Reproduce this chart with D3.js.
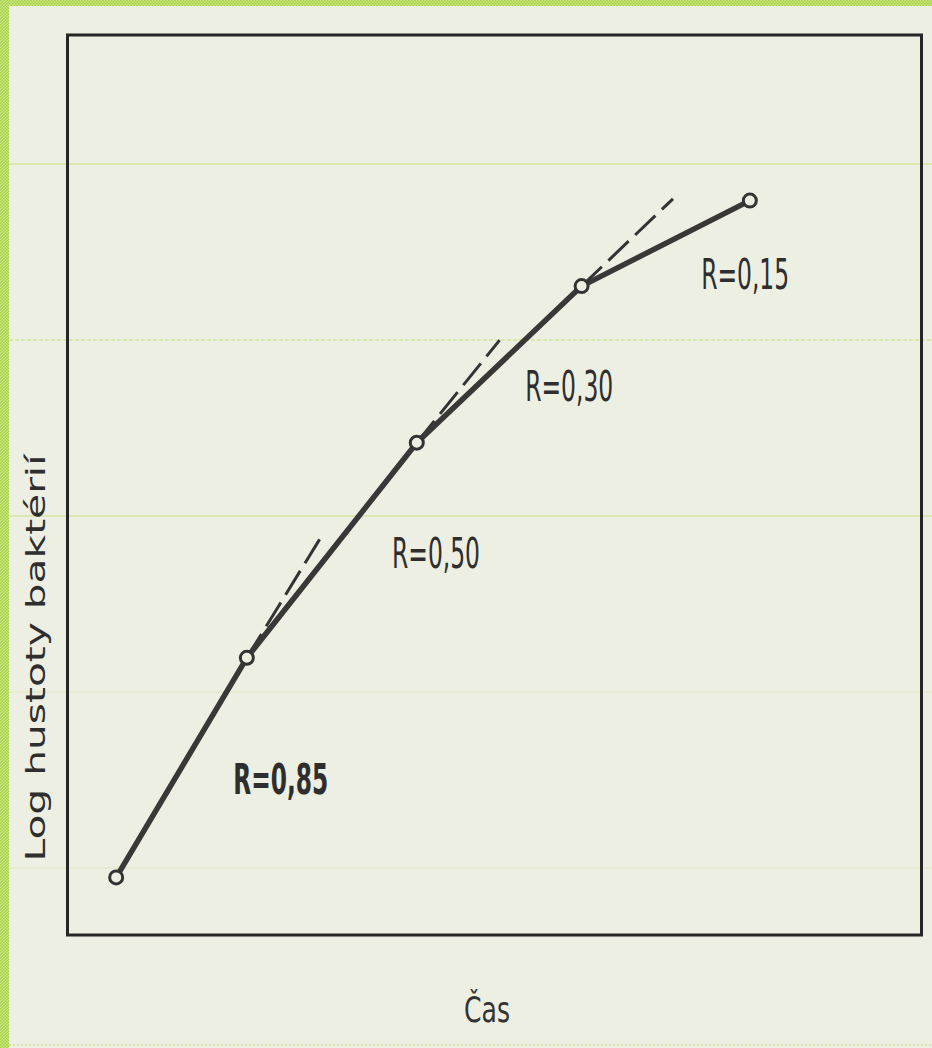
<!DOCTYPE html>
<html>
<head>
<meta charset="utf-8">
<script src="https://cdn.jsdelivr.net/npm/d3@7"></script>
<style>
  html, body { margin: 0; padding: 0; background: #eeefe3; }
  #chart { width: 932px; height: 1048px; }
</style>
</head>
<body>
<div id="chart"></div>
<script>
// Růstová křivka: log hustoty baktérií v čase, úseky s rychlostí R
const times = [0.57, 2.10, 4.09, 6.02, 7.99];
const logDensity = [0.64, 3.08, 5.47, 7.21, 8.16];

// čárkované prodloužení úseků (od bodu k tomuto konci)
const tangentFrom = [1, 2, 3];
const tangentEndTime = [3.00, 5.06, 7.09];
const tangentEndValue = [4.47, 6.61, 8.18];

// popisky rychlostí
const rateLabels = ["R=0,85", "R=0,50", "R=0,30", "R=0,15"];
const rateLabelTime = [1.94, 3.80, 5.36, 7.42];
const rateLabelValue = [1.57, 4.08, 5.93, 7.18];

const xTitle = "Čas";
const yTitle = "Log hustoty baktérií";

class GrowthChart {
  constructor(containerId) {
    this.container = d3.select(containerId);
    this.width = 932;
    this.height = 1048;
    this.frame = { left: 67.5, right: 921.5, top: 35, bottom: 935 };

    this.svg = this.container.append("svg")
      .attr("width", this.width)
      .attr("height", this.height);

    this.init();
  }

  init() {
    this.x = d3.scaleLinear().domain([0, 10]).range([this.frame.left, this.frame.right]);
    this.y = d3.scaleLinear().domain([0, 10]).range([this.frame.bottom, this.frame.top]);

    // tečkovaný zelený okraj
    const defs = this.svg.append("defs");
    const pat = defs.append("pattern")
      .attr("id", "dots")
      .attr("width", 3).attr("height", 3)
      .attr("patternUnits", "userSpaceOnUse");
    pat.append("rect").attr("width", 3).attr("height", 3).attr("fill", "#c9e68a");
    pat.append("rect").attr("width", 1.5).attr("height", 1.5).attr("fill", "#a8d040");
    pat.append("rect").attr("x", 1.5).attr("y", 1.5).attr("width", 1.5).attr("height", 1.5).attr("fill", "#a8d040");

    this.svg.append("rect").attr("width", this.width).attr("height", this.height).attr("fill", "#eeefe3");
    this.svg.append("rect").attr("width", 9).attr("height", this.height).attr("fill", "url(#dots)");
    this.svg.append("rect").attr("width", this.width).attr("height", 6).attr("fill", "url(#dots)");

    // vodorovné zelené linky prohlížeče
    const guides = [
      { y: 164, o: 0.75, dash: null },
      { y: 340, o: 0.8, dash: "4,2" },
      { y: 516, o: 0.7, dash: null },
      { y: 692, o: 0.3, dash: null },
      { y: 868, o: 0.3, dash: null },
      { y: 1045, o: 0.8, dash: "2,2" }
    ];
    this.svg.selectAll(".guide")
      .data(guides)
      .enter()
      .append("line")
      .attr("class", "guide")
      .attr("x1", 9).attr("x2", this.width)
      .attr("y1", d => d.y).attr("y2", d => d.y)
      .attr("stroke", "#b6dc55")
      .attr("stroke-width", 1.2)
      .attr("stroke-dasharray", d => d.dash)
      .attr("opacity", d => d.o);

    this.g = this.svg.append("g");
  }

  update() {
    const x = this.x, y = this.y;
    const points = times.map((t, i) => ({ t, v: logDensity[i] }));

    // rámeček grafu
    this.g.append("rect")
      .attr("x", this.frame.left)
      .attr("y", this.frame.top)
      .attr("width", this.frame.right - this.frame.left)
      .attr("height", this.frame.bottom - this.frame.top)
      .attr("fill", "none")
      .attr("stroke", "#262626")
      .attr("stroke-width", 3);

    // čárkované tečny
    this.g.selectAll(".tangent")
      .data(tangentFrom)
      .enter()
      .append("line")
      .attr("class", "tangent")
      .attr("x1", d => x(times[d]))
      .attr("y1", d => y(logDensity[d]))
      .attr("x2", (d, i) => x(tangentEndTime[i]))
      .attr("y2", (d, i) => y(tangentEndValue[i]))
      .attr("stroke", "#333")
      .attr("stroke-width", 3)
      .attr("stroke-dasharray", "28,9");

    // křivka růstu
    const line = d3.line().x(d => x(d.t)).y(d => y(d.v));
    this.g.append("path")
      .datum(points)
      .attr("d", line)
      .attr("fill", "none")
      .attr("stroke", "#3a3836")
      .attr("stroke-width", 5.5)
      .attr("stroke-linejoin", "round");

    this.g.selectAll(".pt")
      .data(points)
      .enter()
      .append("circle")
      .attr("class", "pt")
      .attr("cx", d => x(d.t))
      .attr("cy", d => y(d.v))
      .attr("r", 6.5)
      .attr("fill", "#eeefe3")
      .attr("stroke", "#333")
      .attr("stroke-width", 3);

    // popisky R
    this.g.selectAll(".rate")
      .data(rateLabels)
      .enter()
      .append("text")
      .attr("class", "rate")
      .attr("x", (d, i) => x(rateLabelTime[i]))
      .attr("y", (d, i) => y(rateLabelValue[i]))
      .attr("font-family", "'DejaVu Sans Condensed', 'DejaVu Sans', sans-serif")
      .attr("font-size", 42)
      .attr("font-weight", (d, i) => i === 0 ? "bold" : "normal")
      .attr("fill", "#2e2e2e")
      .attr("textLength", (d, i) => i === 0 ? 95 : 88)
      .attr("lengthAdjust", "spacingAndGlyphs")
      .text(d => d);

    // názvy os
    this.g.append("text")
      .attr("x", 487)
      .attr("y", 1022)
      .attr("text-anchor", "middle")
      .attr("font-family", "'DejaVu Sans', sans-serif")
      .attr("font-size", 36)
      .attr("fill", "#333")
      .attr("textLength", 46)
      .attr("lengthAdjust", "spacingAndGlyphs")
      .text(xTitle);

    this.g.append("text")
      .attr("transform", "translate(45,658) rotate(-90)")
      .attr("text-anchor", "middle")
      .attr("font-family", "'DejaVu Sans', sans-serif")
      .attr("font-size", 27)
      .attr("fill", "#2e2e2e")
      .attr("textLength", 407)
      .attr("lengthAdjust", "spacingAndGlyphs")
      .text(yTitle);
  }
}

const chart = new GrowthChart("#chart");
chart.update();
</script>
</body>
</html>
